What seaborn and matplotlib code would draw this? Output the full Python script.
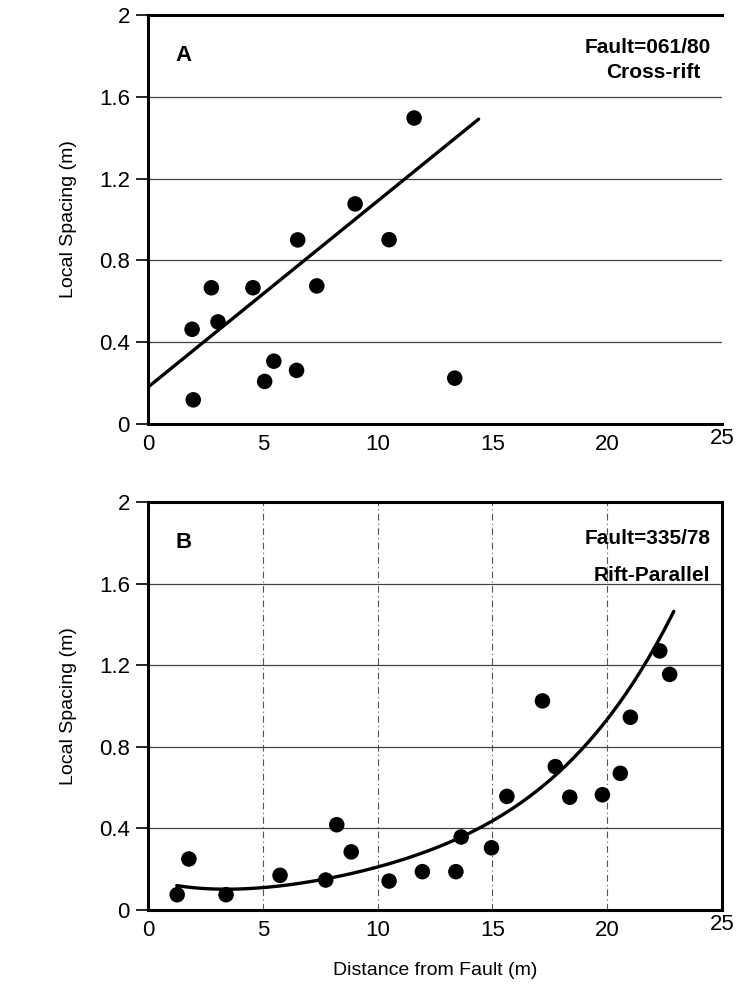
import numpy as np
import pandas as pd
import matplotlib
matplotlib.use("Agg")
import matplotlib.pyplot as plt
from matplotlib.transforms import ScaledTranslation
import seaborn as sns

# ---------------- data ----------------
# Panel A: Fault=061/80, Cross-rift
dist_a = [1.92, 1.97, 2.76, 3.05, 4.57, 5.08, 5.48, 6.52, 6.47, 7.35, 9.02, 10.50, 11.59, 13.36]
spac_a = [0.463, 0.118, 0.666, 0.499, 0.666, 0.208, 0.307, 0.900, 0.262, 0.675, 1.076, 0.901, 1.496, 0.224]
# linear trend drawn in panel A
fit_a_intercept = 0.18
fit_a_slope = 0.091
fit_a_range = (0.0, 14.4)

# Panel B: Fault=335/78, Rift-Parallel
dist_b = [1.27, 1.78, 3.40, 5.75, 7.74, 8.22, 8.85, 10.50, 11.95, 13.41, 13.64, 14.96,
          15.63, 17.18, 17.74, 18.37, 19.79, 20.57, 21.01, 22.29, 22.72]
spac_b = [0.075, 0.250, 0.075, 0.170, 0.147, 0.418, 0.285, 0.142, 0.188, 0.188, 0.358, 0.305,
          0.557, 1.025, 0.703, 0.553, 0.565, 0.670, 0.945, 1.270, 1.155]
# polynomial trend drawn in panel B, in u = x - fit_b_center
fit_b_center = 3.4
fit_b_coefs = [0.102, 0.0, 0.003354, -2.012e-4, 1.0916e-5]   # u^0 .. u^4
fit_b_range = (1.25, 22.9)

x_ticks = [0, 5, 10, 15, 20, 25]
y_ticks = [0, 0.4, 0.8, 1.2, 1.6, 2]
y_tick_labels = ["0", "0.4", "0.8", "1.2", "1.6", "2"]
x_tick_labels = ["0", "5", "10", "15", "20", "25"]

sns.set_theme(style="white")
plt.rcParams["font.family"] = ["Liberation Sans", "DejaVu Sans"]
plt.rcParams["text.color"] = "black"
plt.rcParams["axes.labelcolor"] = "black"
plt.rcParams["xtick.color"] = "black"
plt.rcParams["ytick.color"] = "black"

fig = plt.figure(figsize=(7.39, 10.08), dpi=100)
axA = fig.add_axes([0.2003, 0.5794, 0.7767, 0.4058])
axB = fig.add_axes([0.2003, 0.0972, 0.7767, 0.4048])

def style_axes(ax, full_box):
    ax.set_xlim(0, 25)
    ax.set_ylim(0, 2)
    ax.set_yticks(y_ticks)
    ax.set_yticklabels(y_tick_labels)
    ax.set_xticks(x_ticks)
    ax.set_xticklabels(x_tick_labels)
    ax.tick_params(axis="y", direction="out", length=9, width=1.2, color="black",
                   labelsize=16, pad=4, left=True, labelcolor="black")
    ax.tick_params(axis="x", length=0, labelsize=16, pad=7, labelcolor="black")
    ax.yaxis.grid(True, color="#444444", lw=0.9)
    for s in ["left", "bottom", "top", "right"]:
        ax.spines[s].set_color("black")
        ax.spines[s].set_linewidth(2.2)
    if not full_box:
        ax.spines["right"].set_visible(False)
    ax.set_ylabel("Local Spacing (m)", fontsize=14, labelpad=16, color="black")
    ax.set_axisbelow(True)
    # last x label sits a little higher in the original
    lbl = ax.get_xticklabels()[-1]
    lbl.set_transform(lbl.get_transform() + ScaledTranslation(0, 6 / 100, fig.dpi_scale_trans))

# Panel A
dfa = pd.DataFrame({"d": dist_a, "s": spac_a})
sns.scatterplot(data=dfa, x="d", y="s", ax=axA, color="black", s=125, edgecolor="none", zorder=3)
xa = np.linspace(fit_a_range[0], fit_a_range[1], 50)
sns.lineplot(x=xa, y=fit_a_intercept + fit_a_slope * xa, ax=axA, color="black", lw=2.4)
style_axes(axA, full_box=False)
axA.set_xlabel("")
axA.text(1.2, 1.80, "A", fontsize=16, fontweight="bold", ha="left", va="center")
axA.text(24.5, 1.84, "Fault=061/80", fontsize=15, fontweight="bold", ha="right", va="center")
axA.text(22.0, 1.72, "Cross-rift", fontsize=15, fontweight="bold", ha="center", va="center")

# Panel B
dfb = pd.DataFrame({"d": dist_b, "s": spac_b})
sns.scatterplot(data=dfb, x="d", y="s", ax=axB, color="black", s=125, edgecolor="none", zorder=3)
xb = np.linspace(fit_b_range[0], fit_b_range[1], 200)
ub = xb - fit_b_center
yb = sum(c * ub ** i for i, c in enumerate(fit_b_coefs))
sns.lineplot(x=xb, y=yb, ax=axB, color="black", lw=2.4)
style_axes(axB, full_box=True)
axB.xaxis.grid(True, color="#555555", lw=0.8, ls=(0, (6, 3, 1, 3)))
axB.set_xlabel("Distance from Fault (m)", fontsize=14, labelpad=15, color="black")
axB.text(1.2, 1.80, "B", fontsize=16, fontweight="bold", ha="left", va="center")
axB.text(24.5, 1.82, "Fault=335/78", fontsize=15, fontweight="bold", ha="right", va="center")
axB.text(24.5, 1.64, "Rift-Parallel", fontsize=15, fontweight="bold", ha="right", va="center")

fig.savefig("out.png", dpi=100)
